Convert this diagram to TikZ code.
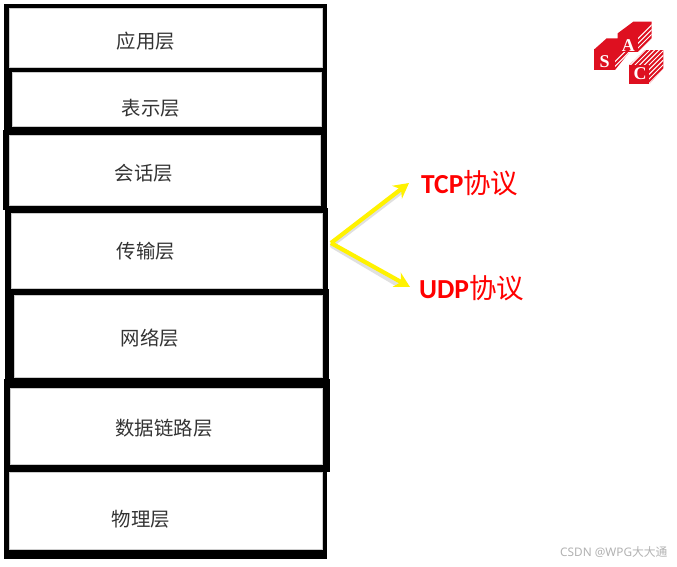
\documentclass[tikz,border=0pt]{standalone}
\usepackage{fontspec}
\usetikzlibrary{arrows.meta}
\setmainfont{Liberation Sans}
\newfontfamily\cjk{Noto Sans CJK SC}
\newfontfamily\latbold{Carlito}[BoldFont={Carlito Bold}]
\newfontfamily\logofont{Liberation Serif}
\newfontfamily\wm{Noto Sans}
\definecolor{logored}{RGB}{222,16,32}
\begin{document}
\begin{tikzpicture}[x=1pt,y=-1pt,
  inner/.style={fill=white,draw=gray!40,line width=0.4pt,inner sep=0pt,outer sep=0pt},
  layer/.style={text=black!80,font=\cjk\fontsize{19.4}{19.4}\selectfont,inner sep=0pt},
  proto/.style={text=red,inner sep=0pt,anchor=west,font=\fontsize{27.5}{27.5}\selectfont},
  yarrow/.style={draw=yellow,line width=4.2pt,-{Stealth[length=15pt,width=16pt]}},
  shadowline/.style={draw=black!12,line width=4.2pt,line cap=round},
  logoletter/.style={text=white,font=\logofont\bfseries\fontsize{18}{18}\selectfont,inner sep=0pt},
  hatch/.style={draw=white,line width=1pt}]
\useasboundingbox (0,0) rectangle (677,566);
\fill[white] (0,0) rectangle (677,566);
% black frames
\fill (4,4) rectangle (327,71);
\fill (4,68) rectangle (327,135);
\fill (3,130) rectangle (327,210);
\fill (5,208) rectangle (328,295);
\fill (5,289) rectangle (329,388);
\fill (4,379) rectangle (330,472);
\fill (4,465) rectangle (327,559);
% inner white boxes
\draw[inner] (9,8) rectangle (322,67);
\draw[inner] (12,72) rectangle (321,126);
\draw[inner] (9,135) rectangle (320,205);
\draw[inner] (11,213) rectangle (322,288);
\draw[inner] (14,295) rectangle (322,377);
\draw[inner] (10,388) rectangle (322,464);
\draw[inner] (9,472) rectangle (322,549);
% labels
\node[layer] (app) at (146,41) {应用层};
\node[layer] (pres) at (151,108) {表示层};
\node[layer] (sess) at (144,173) {会话层};
\node[layer] (trans) at (146,251) {传输层};
\node[layer] (net) at (150,338) {网络层};
\node[layer] (link) at (164,428) {数据链路层};
\node[layer] (phys) at (141,519) {物理层};
% protocols
\node[proto] (tcp) at (421,183) {\latbold\bfseries TCP\cjk\mdseries 协议};
\node[proto] (udp) at (419,288) {\latbold\bfseries UDP\cjk\mdseries 协议};
\coordinate (src) at (331,243);
\coordinate (tcpend) at (409,183);
\coordinate (udpend) at (410,287);
\draw[shadowline] (332,245) -- (400,193);
\draw[shadowline] (332,246) -- (398,285);
\draw[yarrow] (src) -- (tcpend);
\draw[yarrow] (src) -- (udpend);
% logo
\begin{scope}[shift={(570,10)},x=0.3333pt,y=-0.3333pt]
  % hatched tops and sides
  \begin{scope}
    \clip (143,70) -- (190,35) -- (245,35) -- (245,85) -- (205,125) -- (143,125) -- cycle
          (73,118) -- (110,85) -- (150,85) -- (175,130) -- (135,180) -- (73,180) -- cycle
          (178,165) -- (225,120) -- (280,120) -- (280,175) -- (238,222) -- (178,222) -- cycle;
    \fill[logored] (60,20) rectangle (290,230);
    \foreach \k in {0,14,...,420}
      \draw[hatch] (60+\k,230) -- (260+\k,30);
  \end{scope}
  % front faces
  \fill[logored] (143,70) rectangle (205,125);
  \fill[logored] (73,118) rectangle (135,180);
  \fill[logored] (178,165) rectangle (238,222);
  \node[logoletter] (A) at (175,106) {A};
  \node[logoletter] (S) at (104,155) {S};
  \node[logoletter] (C) at (210,192) {C};
\end{scope}
% watermark
\node[text=black!30,inner sep=0pt,anchor=west,font=\wm\fontsize{11.8}{12}\selectfont] (mark) at (560,552) {CSDN @WPG\cjk 大大通};
\end{tikzpicture}
\end{document}
